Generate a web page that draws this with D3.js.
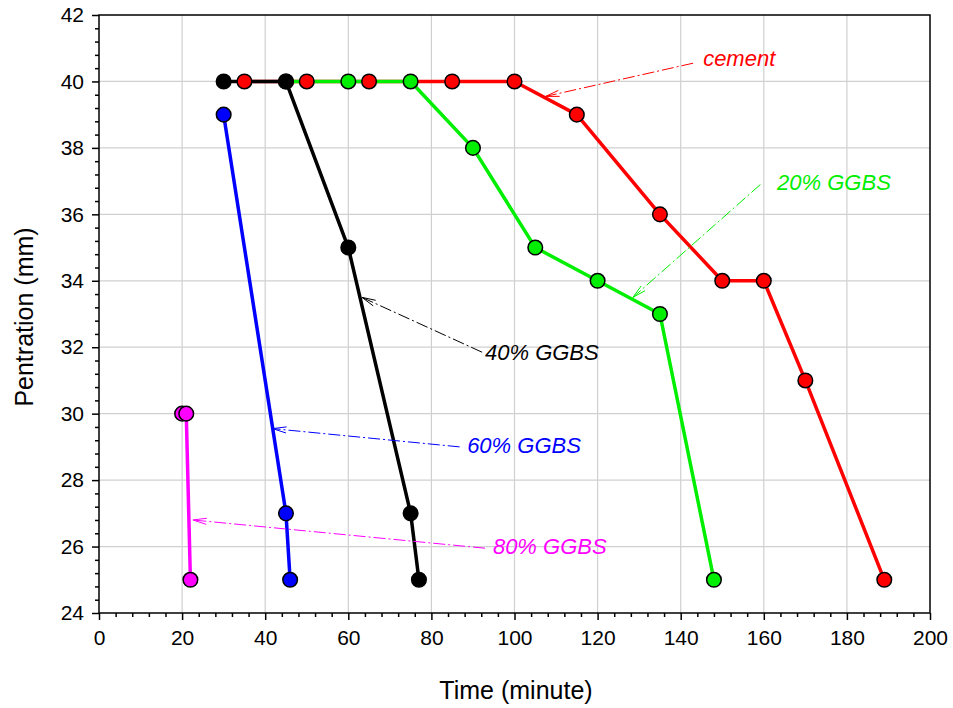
<!DOCTYPE html>
<html><head><meta charset="utf-8">
<script src="https://cdn.jsdelivr.net/npm/d3@7"></script>
<style>body{margin:0;background:#fff}svg{font-family:"Liberation Sans",Arial,sans-serif}</style>
</head><body>
<svg id="c" width="953" height="708"></svg>
<script>
const cementX = [35,50,65,85,100,115,135,150,160,170,189];
const cementY = [40,40,40,40,40,39,36,34,34,31,25];
const g20X = [45,60,75,90,105,120,135,148];
const g20Y = [40,40,40,38,35,34,33,25];
const g40X = [30,45,60,75,77];
const g40Y = [40,40,35,27,25];
const g60X = [30,45,46];
const g60Y = [39,27,25];
const g80X = [20,21,22];
const g80Y = [30,30,25];
const seriesNames = ["cement","20% GGBS","40% GGBS","60% GGBS","80% GGBS"];
const seriesColors = ["#ff0000","#00ee00","#000000","#0000ff","#ff00ff"];
const xTicks = [0,20,40,60,80,100,120,140,160,180,200];
const yTicks = [24,26,28,30,32,34,36,38,40,42];
// annotations (data units): label start, arrow start, arrow head
const labelX = [145.4,163.2,92.9,88.6,94.8];
const labelY = [40.65,36.9,31.8,28.98,25.95];
const fromX = [143,159.2,92.2,86.8,92.9];
const fromY = [40.55,36.9,31.85,29.0,25.95];
const toX = [107.5,128.5,63.3,41.8,22.6];
const toY = [39.55,33.5,33.5,29.55,26.8];

const svg = d3.select("#c");
const M = {l:99,r:930,t:15,b:613};
const x = d3.scaleLinear().domain([0,200]).range([M.l,M.r]);
const y = d3.scaleLinear().domain([24,42]).range([M.b,M.t]);

// grid
svg.append("g").selectAll("line").data(xTicks.slice(1,-1)).join("line")
  .attr("x1",d=>x(d)).attr("x2",d=>x(d)).attr("y1",M.t).attr("y2",M.b)
  .attr("stroke","#d0d0d0").attr("stroke-width",1.2);
svg.append("g").selectAll("line").data(yTicks.slice(1,-1)).join("line")
  .attr("y1",d=>y(d)).attr("y2",d=>y(d)).attr("x1",M.l).attr("x2",M.r)
  .attr("stroke","#d0d0d0").attr("stroke-width",1.2);

// frame
svg.append("rect").attr("x",M.l).attr("y",M.t).attr("width",M.r-M.l).attr("height",M.b-M.t)
  .attr("fill","none").attr("stroke","#000").attr("stroke-width",1.5);

// axes
const xMinor = d3.range(0,201,4).filter(v=>v%20!==0);
const yMinor = d3.range(24,42.01,0.4).map(v=>+v.toFixed(1)).filter(v=>Math.abs(v/2-Math.round(v/2))>1e-6);
const xAxis = d3.axisBottom(x).tickValues(xTicks).tickSize(7).tickPadding(10).tickFormat(d3.format("d"));
const gx = svg.append("g").attr("transform",`translate(0,${M.b})`).call(xAxis);
gx.select(".domain").remove();
gx.selectAll("text").attr("font-size",21).attr("font-family","Liberation Sans, Arial, sans-serif").attr("fill","#000");
gx.selectAll("line").attr("stroke-width",1.5);
svg.append("g").attr("transform",`translate(0,${M.b})`).call(d3.axisBottom(x).tickValues(xMinor).tickSize(4).tickFormat(""))
  .call(g=>g.select(".domain").remove()).selectAll("line").attr("stroke-width",1.5);

const yAxis = d3.axisLeft(y).tickValues(yTicks).tickSize(7).tickPadding(8).tickFormat(d3.format("d"));
const gy = svg.append("g").attr("transform",`translate(${M.l},0)`).call(yAxis);
gy.select(".domain").remove();
gy.selectAll("text").attr("font-size",21).attr("font-family","Liberation Sans, Arial, sans-serif").attr("fill","#000");
gy.selectAll("line").attr("stroke-width",1.5);
svg.append("g").attr("transform",`translate(${M.l},0)`).call(d3.axisLeft(y).tickValues(yMinor).tickSize(4).tickFormat(""))
  .call(g=>g.select(".domain").remove()).selectAll("line").attr("stroke-width",1.5);

// titles
svg.append("text").attr("x",516).attr("y",699).attr("text-anchor","middle")
  .attr("font-size",25).text("Time (minute)");
svg.append("text").attr("transform",`translate(33,317) rotate(-90)`).attr("text-anchor","middle")
  .attr("font-size",25).text("Pentration (mm)");

const series = [[cementX,cementY],[g20X,g20Y],[g40X,g40Y],[g60X,g60Y],[g80X,g80Y]];
const line = d3.line().x(d=>x(d[0])).y(d=>y(d[1]));
series.forEach((s,i)=>{
  const pts = s[0].map((v,j)=>[v,s[1][j]]);
  svg.append("path").datum(pts).attr("d",line).attr("fill","none")
    .attr("stroke",seriesColors[i]).attr("stroke-width",3.5).attr("stroke-linejoin","round");
});
series.forEach((s,i)=>{
  const pts = s[0].map((v,j)=>[v,s[1][j]]);
  svg.append("g").selectAll("circle").data(pts).join("circle")
    .attr("cx",d=>x(d[0])).attr("cy",d=>y(d[1])).attr("r",7.3)
    .attr("fill",seriesColors[i]).attr("stroke","#000").attr("stroke-width",1.5);
});

// annotations
seriesNames.forEach((n,i)=>{
  const x1=x(fromX[i]), y1=y(fromY[i]), x2=x(toX[i]), y2=y(toY[i]);
  svg.append("line").attr("x1",x1).attr("y1",y1).attr("x2",x2).attr("y2",y2)
    .attr("stroke",seriesColors[i]).attr("stroke-width",1).attr("stroke-dasharray","12,3,2,3");
  const ang = Math.atan2(y1-y2,x1-x2), L=14, a=0.22;
  const p1=[x2+L*Math.cos(ang+a), y2+L*Math.sin(ang+a)];
  const p2=[x2+L*Math.cos(ang-a), y2+L*Math.sin(ang-a)];
  svg.append("path").attr("d",`M${p1[0]},${p1[1]}L${x2},${y2}L${p2[0]},${p2[1]}`)
    .attr("fill","none").attr("stroke",seriesColors[i]).attr("stroke-width",1);
  svg.append("text").attr("x",x(labelX[i])).attr("y",y(labelY[i])).attr("font-size",22)
    .attr("font-style","italic").attr("fill",seriesColors[i]).attr("dominant-baseline","middle").text(n);
});
</script>
</body></html>
